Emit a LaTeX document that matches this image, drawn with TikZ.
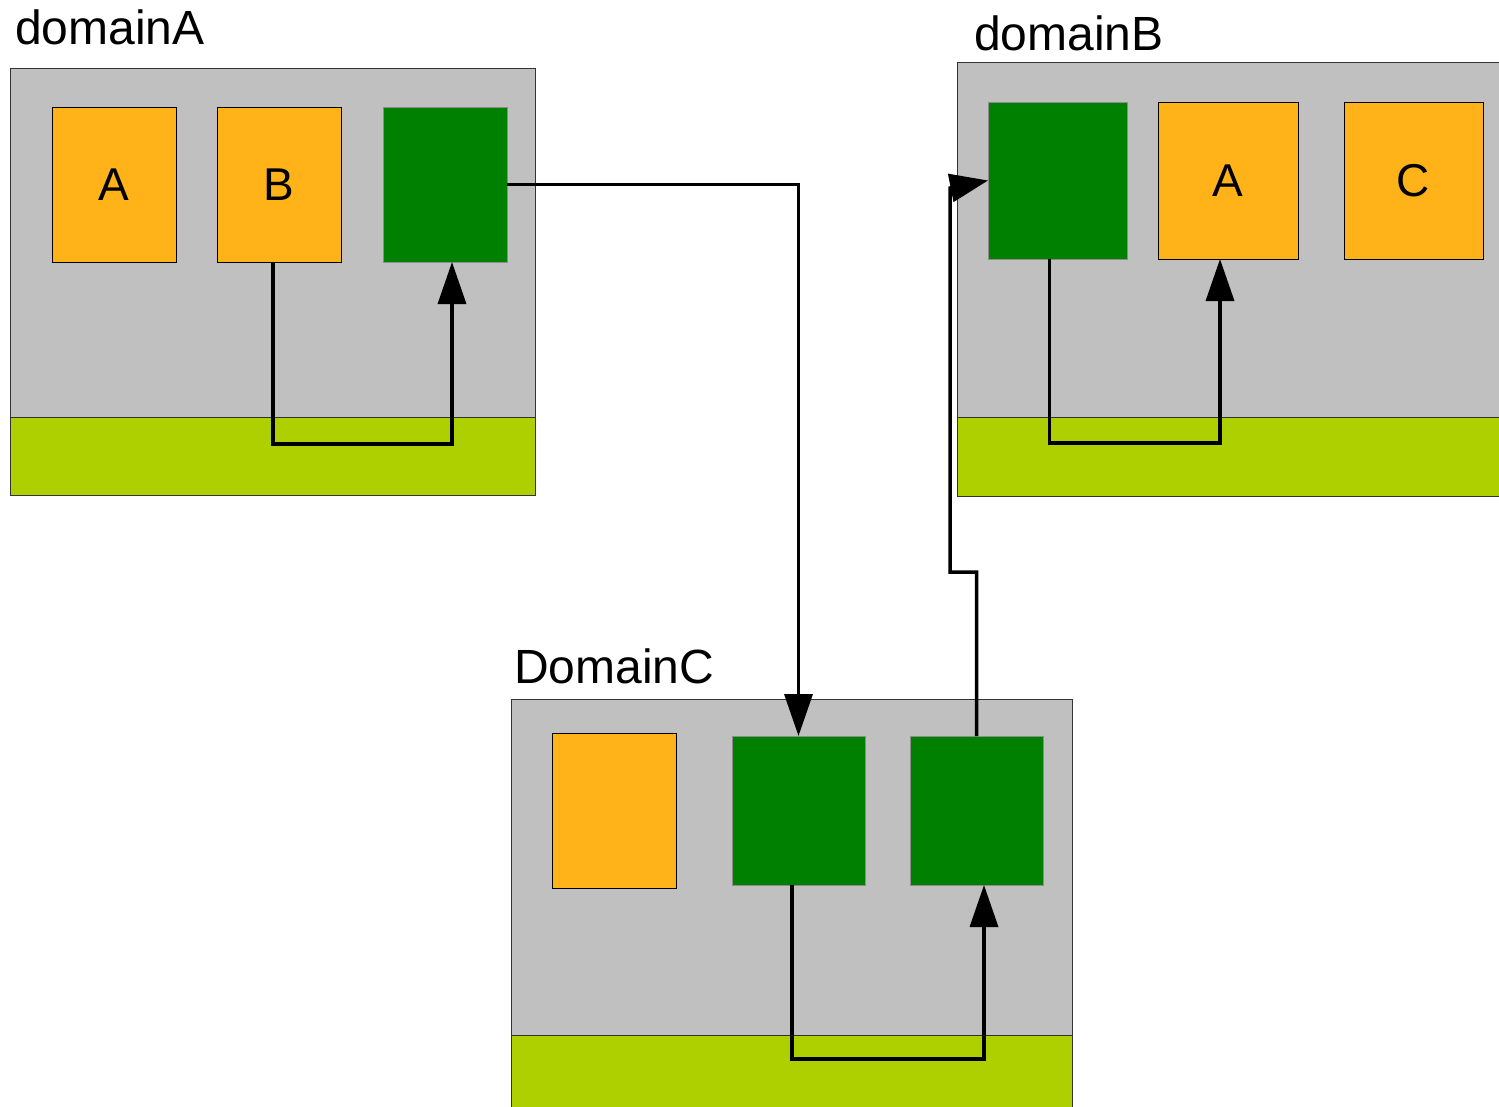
\documentclass[tikz,border=0pt]{standalone}
\usepackage{fontspec}
\setmainfont{Liberation Sans}
\usetikzlibrary{arrows.meta}
\definecolor{dgray}{HTML}{C0C0C0}
\definecolor{orng}{HTML}{FFB319}
\definecolor{grn}{HTML}{008000}
\definecolor{band}{HTML}{AED000}
\tikzset{
  dombox/.style={draw=black!80, line width=1pt, fill=dgray, anchor=north west, inner sep=0pt, outer sep=0pt},
  bandbox/.style={draw=black!80, line width=1pt, fill=band, anchor=north west, inner sep=0pt, outer sep=0pt},
  obox/.style={draw=black, line width=1pt, fill=orng, anchor=north west, inner sep=0pt, outer sep=0pt,
    font=\fontsize{46}{52}\selectfont},
  gbox/.style={draw=black!45, line width=0.8pt, fill=grn, anchor=north west, inner sep=0pt, outer sep=0pt},
  lbl/.style={anchor=base west, inner sep=0pt, font=\fontsize{48}{56}\selectfont},
  conn/.style={line width=3.5pt, -{Triangle[length=42pt,width=28pt]}},
}
\begin{document}
\begin{tikzpicture}[x=1pt,y=-1pt]
\clip (0,0) rectangle (1499,1106);
\fill[white] (0,0) rectangle (1499,1106);

% domain A
\node[dombox, minimum width=525pt, minimum height=427pt] (domA) at (10,68) {};
\node[bandbox, minimum width=525pt, minimum height=78pt] (bandA) at (10,417) {};
\node[lbl] (labA) at (15,44) {domainA};
\node[obox, minimum width=124pt, minimum height=155pt] (aA) at (52,107) {A};
\node[obox, minimum width=124pt, minimum height=155pt] (bA) at (217,107) {B};
\node[gbox, minimum width=124pt, minimum height=155pt] (gA) at (383,107) {};

% domain B
\node[dombox, minimum width=560pt, minimum height=433pt] (domB) at (957,62) {};
\node[bandbox, minimum width=560pt, minimum height=79pt] (bandB) at (957,417) {};
\node[lbl] (labB) at (974,50) {domainB};
\node[gbox, minimum width=139pt, minimum height=157pt] (gB) at (988,102) {};
\node[obox, minimum width=140pt, minimum height=157pt] (aB) at (1158,102) {A};
\node[obox, minimum width=139pt, minimum height=157pt] (cB) at (1344,102) {C};

% domain C
\node[dombox, minimum width=561pt, minimum height=430pt] (domC) at (511,699) {};
\node[bandbox, minimum width=561pt, minimum height=90pt] (bandC) at (511,1035) {};
\node[lbl] (labC) at (514,683) {DomainC};
\node[obox, minimum width=124pt, minimum height=155pt] (oC) at (552,733) {};
\node[gbox, minimum width=133pt, minimum height=149pt] (gC1) at (732,736) {};
\node[gbox, minimum width=133pt, minimum height=149pt] (gC2) at (910,736) {};

% connectors
\draw[conn] ([xshift=-6pt]bA.south) -- ++(0,182) -| ([xshift=7pt]gA.south);
\draw[conn] ([xshift=-8pt]gB.south) -- ++(0,184) -| ([xshift=-8pt]aB.south);
\draw[conn] ([xshift=-6.5pt]gC1.south) -- ++(0,174) -| ([xshift=7.5pt]gC2.south);
\draw[conn] (gA.east) -| (gC1.north);
\coordinate (stepC) at (950,572);
\coordinate (upB) at (950,188);
\draw[conn, -{Triangle[length=38pt,width=28pt]}] (gC2.north) |- (stepC) -- (upB) -- (gB.west);
\end{tikzpicture}
\end{document}
